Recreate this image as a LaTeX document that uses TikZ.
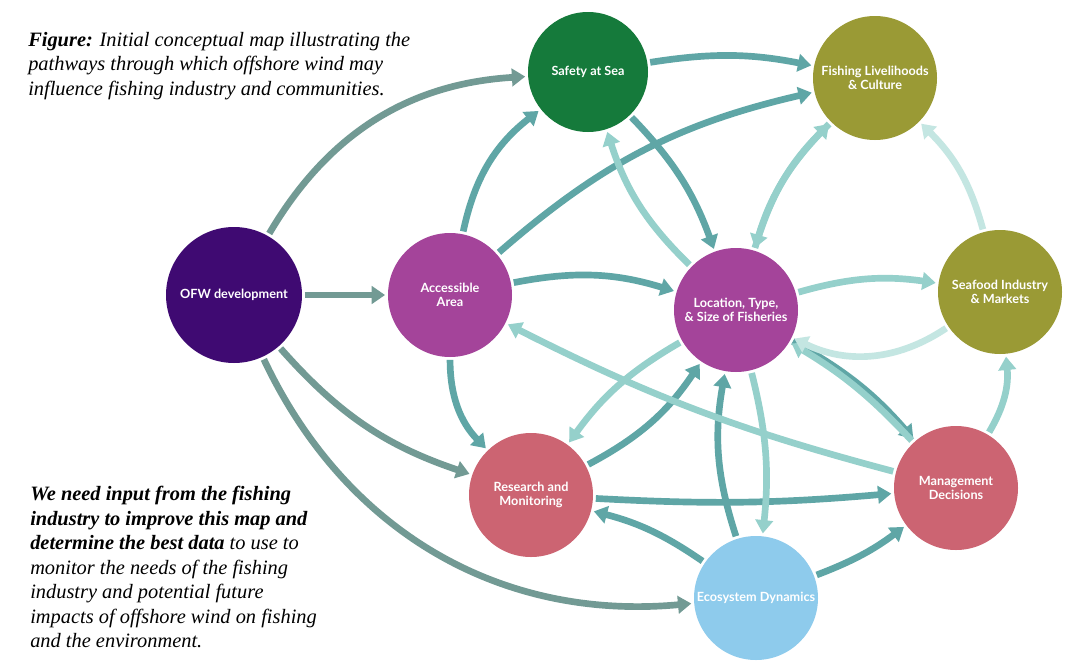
\documentclass[tikz,border=0pt]{standalone}
\usepackage{fontspec}
\setmainfont{Liberation Serif}
\newfontfamily\nodefont{Lato}
\usetikzlibrary{arrows.meta}
\definecolor{cofw}{HTML}{3F0A72}
\definecolor{csafe}{HTML}{157A3B}
\definecolor{colive}{HTML}{9A9A35}
\definecolor{cpurp}{HTML}{A4449A}
\definecolor{cpink}{HTML}{CC6472}
\definecolor{cblue}{HTML}{8ECBEC}
\definecolor{adark}{HTML}{729A94}
\definecolor{amid}{HTML}{5FA6A6}
\definecolor{alight}{HTML}{95D0CB}
\definecolor{alighter}{HTML}{C4E6E2}
\tikzset{
 circ/.style={circle,minimum size=#1,inner sep=0pt,align=center,text=white,font=\nodefont\bfseries\fontsize{9.5}{11}\selectfont},
 arr/.style={line width=5pt,draw=#1,-{Triangle[length=10pt,width=13pt]},shorten >=2pt,shorten <=2pt},
 txt/.style={anchor=north west,align=left,font=\fontsize{15.3}{18.4}\selectfont\itshape,inner sep=0pt},
}
\begin{document}
\begin{tikzpicture}[x=0.75pt,y=-0.75pt]
\useasboundingbox (0,0) rectangle (1065,668);
\fill[white] (0,0) rectangle (1065,668);
\node[circ=102pt,fill=cofw] (ofw) at (234,295) {OFW development};
\node[circ=90pt,fill=csafe] (safe) at (588,72) {Safety at Sea};
\node[circ=93pt,fill=colive] (fish) at (875,78) {Fishing Livelihoods\\\& Culture};
\node[circ=93pt,fill=cpurp] (acc) at (450,295) {Accessible\\Area};
\node[circ=93pt,fill=cpurp] (loc) at (736,310) {Location, Type,\\\& Size of Fisheries};
\node[circ=93pt,fill=colive] (sea) at (1000,292) {Seafood Industry\\\& Markets};
\node[circ=93pt,fill=cpink] (res) at (531,495) {Research and\\Monitoring};
\node[circ=93pt,fill=cpink] (man) at (956,488) {Management\\Decisions};
\node[circ=93pt,fill=cblue] (eco) at (756,598) {Ecosystem Dynamics};
% OFW arrows
\draw[arr=adark] (ofw) to[bend left=28] (safe);
\draw[arr=adark] (ofw) -- (acc);
\draw[arr=adark] (ofw) to[bend right=15] (res);
\draw[arr=adark] (ofw) to[bend right=35] (eco);
% mid
\draw[arr=amid] (safe) to[bend left=10] (fish);
\draw[arr=amid] (safe) to[bend left=12] (loc);
\draw[arr=amid] (acc) to[bend left=20] (safe);
\draw[arr=amid] (acc) to[bend left=14] (fish);
\draw[arr=amid] (acc) to[bend left=14] (loc);
\draw[arr=amid] (acc) to[bend right=22] (res);
\draw[arr=amid] (res) to[bend right=14] (loc);
\draw[arr=amid] (res) to[bend right=4] (man);
\draw[arr=amid] (eco) to[bend right=10] (res);
\draw[arr=amid] (eco) to[bend right=8] (man);
\draw[arr=amid] (eco) to[bend left=14] (loc);
\draw[arr=amid] (loc) to[bend left=10] (man);
% light
\draw[arr=alight] (loc) to[bend left=14] (safe);
\draw[arr=alight] (loc) to[bend left=14] (fish);
\draw[arr=alight] (fish) to[bend right=14] (loc);
\draw[arr=alight] (loc) to[bend left=12] (sea);
\draw[arr=alight] (loc) to[bend right=12] (res);
\draw[arr=alight] (loc) to[bend left=10] (eco);
\draw[arr=alight] (man) to[bend right=8] (loc);
\draw[arr=alight] (man) to[bend left=6] (acc);
\draw[arr=alight] (man) to[bend right=18] (sea);
\draw[arr=alighter] (sea) to[bend left=30] (loc);
\draw[arr=alighter] (sea) to[bend right=15] (fish);
% texts
\node[txt] (cap) at (28,32) {\textbf{Figure:} Initial conceptual map illustrating the\\pathways through which offshore wind may\\influence fishing industry and communities.};
\node[txt] (note) at (30,486) {\textbf{We need input from the fishing}\\\textbf{industry to improve this map and}\\\textbf{determine the best data} to use to\\monitor the needs of the fishing\\industry and potential future\\impacts of offshore wind on fishing\\and the environment.};
\end{tikzpicture}
\end{document}
